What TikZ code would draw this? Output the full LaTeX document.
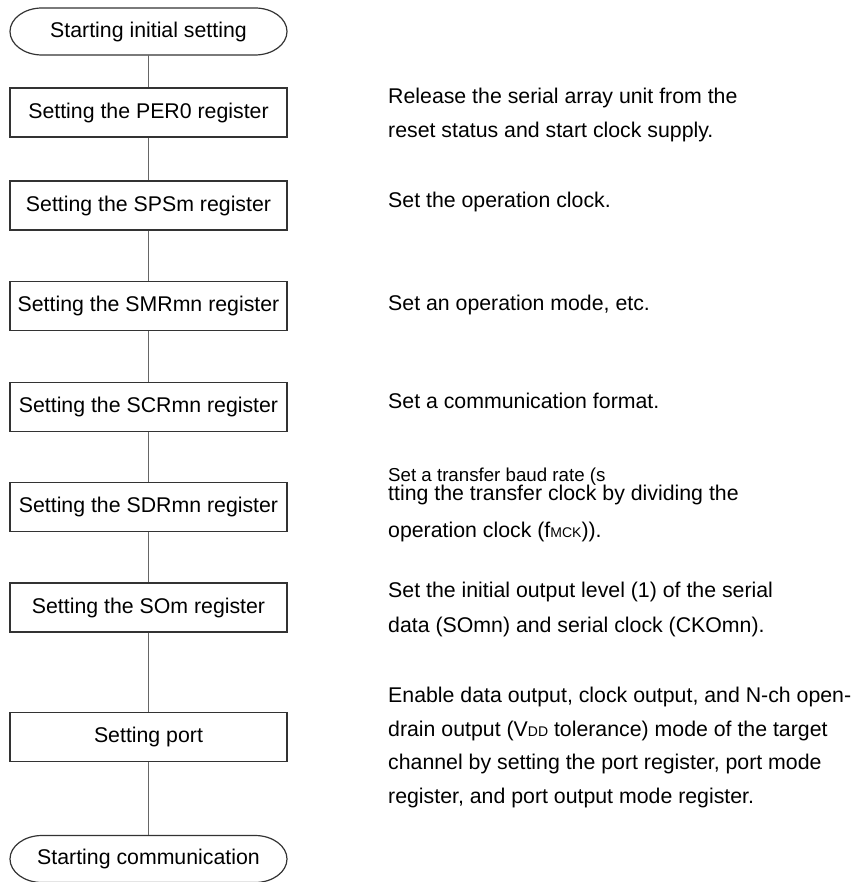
\documentclass[tikz,border=0pt]{standalone}
\usepackage{fontspec}
\setmainfont{Liberation Sans}

\tikzset{
  regbox/.style={draw=black!80, line width=1.2pt, minimum width=277pt,
                 minimum height=49pt, inner sep=0pt},
  termnode/.style={minimum width=277pt, minimum height=47pt, inner sep=0pt},
  flowline/.style={draw=black!60, line width=1.2pt},
  note/.style={anchor=base west, align=left, inner sep=0pt}
}
% 椭圆端头的起止框轮廓
\newcommand\termoutline[1]{%
  \draw[black!80, line width=1.2pt, shift={(#1.center)}]
    (-106.5,-23.5) -- (106.5,-23.5)
    arc[start angle=-90, end angle=90, x radius=32, y radius=23.5]
    -- (-106.5,23.5)
    arc[start angle=90, end angle=270, x radius=32, y radius=23.5] -- cycle;}
% 小号下标字
\newcommand\lowtext[1]{{\fontsize{14}{14}\selectfont #1}}

\begin{document}
\begin{tikzpicture}[x=1pt, y=-1pt, font=\fontsize{21.3}{34.5}\selectfont]
    \useasboundingbox (0,0) rectangle (852,882);

    % --- 参数定义 ---
    \def\cx{148.5}   % 流程图中线
    \def\nx{388}     % 右侧说明文字左边

    % --- 1. 流程图各框 ---
    \node[termnode] (start) at (\cx,31.5) {Starting initial setting};
    \node[regbox] (per) at (\cx,112.5) {Setting the PER0 register};
    \node[regbox] (sps) at (\cx,205.5) {Setting the SPSm register};
    \node[regbox] (smr) at (\cx,306)   {Setting the SMRmn register};
    \node[regbox] (scr) at (\cx,407)   {Setting the SCRmn register};
    \node[regbox] (sdr) at (\cx,507)   {Setting the SDRmn register};
    \node[regbox] (som) at (\cx,607.5) {Setting the SOm register};
    \node[regbox] (port) at (\cx,737)  {Setting port};
    \node[termnode] (comm) at (\cx,859) {Starting communication};

    \termoutline{start}
    \termoutline{comm}

    % --- 2. 连接线 ---
    \foreach \a/\b in {start/per, per/sps, sps/smr, smr/scr, scr/sdr,
                       sdr/som, som/port, port/comm}
        \draw[flowline] (\a) -- (\b);

    % --- 3. 右侧说明文字 (多行时按末行基线放置) ---
    \node[note] (nper) at (\nx,138) {Release the serial array unit from the\\
        reset status and start clock supply.};
    \node[note] (nsps) at (\nx,208) {Set the operation clock.};
    \node[note] (nsmr) at (\nx,310) {Set an operation mode, etc.};
    \node[note] (nscr) at (\nx,408) {Set a communication format.};
    \node[note] (nsdr) at (\nx,537) {{\fontsize{18.7}{22}\selectfont Set a transfer baud rate (s}\\[-15pt]
        tting the transfer clock by dividing the\\[2pt]
        operation clock (f\lowtext{MCK})).};
    \node[note] (nsom) at (\nx,632) {Set the initial output level (1) of the serial\\
        data (SOmn) and serial clock (CKOmn).};
    \node[note, font=\fontsize{21.3}{33.5}\selectfont] (nport) at (\nx,803)
        {Enable data output, clock output, and N-ch open-\\
        drain output (V\lowtext{DD} tolerance) mode of the target\\
        channel by setting the port register, port mode\\
        register, and port output mode register.};

\end{tikzpicture}
\end{document}
